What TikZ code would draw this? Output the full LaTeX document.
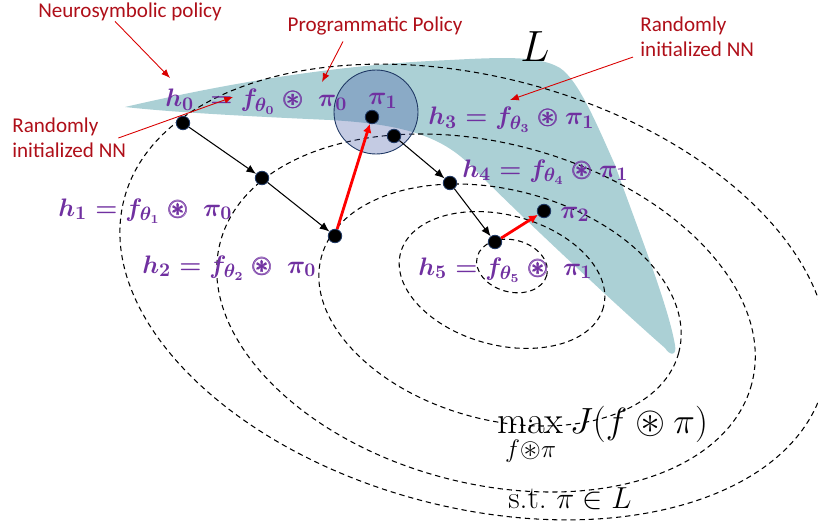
\documentclass[tikz,border=0pt]{standalone}
\usepackage{amsmath,amssymb,bm}
\usepackage{fontspec}
\setsansfont{Carlito}
\usetikzlibrary{arrows.meta}
\definecolor{lteal}{RGB}{171,208,213}
\definecolor{progblue}{RGB}{65,87,165}
\definecolor{dotrim}{RGB}{31,56,100}
\definecolor{notered}{RGB}{175,15,25}
\definecolor{hpurple}{RGB}{112,48,160}
\newcommand{\cast}{\mathbin{\bm{\circledast}}}
\begin{document}
\begin{tikzpicture}[
      x=0.02cm, y=-0.02cm,
      hdot/.style={circle,fill=black,draw=dotrim,line width=0.5pt,inner sep=0pt,minimum size=0.27cm},
      hlabel/.style={anchor=base west,inner sep=0pt,text=hpurple,font=\fontsize{15}{17}\selectfont\boldmath},
      note/.style={inner sep=0pt,text=notered,align=left,font=\sffamily\fontsize{12}{14}\selectfont},
      pointer/.style={draw=red!85!black,line width=0.5pt,-{Latex[length=5pt,width=4pt]}},
      descent/.style={line width=0.6pt,-{Latex[length=5.5pt,width=4.5pt]}},
      jump/.style={red,line width=1.6pt,-{Latex[length=5pt,width=5pt]}},
      contour/.style={line width=0.6pt,dash pattern=on 3pt off 2.2pt}
    ]
    \useasboundingbox (0,0) rectangle (818,527);
    \fill[lteal] (125,107) .. controls (220,85) and (330,65) .. (450,60)
      .. controls (505,57) and (540,56) .. (560,68)
      .. controls (578,80) and (595,120) .. (615,165)
      .. controls (640,235) and (668,305) .. (675,345)
      .. controls (677,356) and (670,356) .. (665,348)
      .. controls (635,322) and (540,235) .. (470,165)
      .. controls (440,135) and (400,124) .. (330,120)
      .. controls (240,116) and (170,112) .. (125,107) -- cycle;
    \foreach \rx/\ry/\cx/\cy in {36/26/512/266,105/65/502/280,185/115/500/305,275/170/486/313,362/215/474/292}
      \draw[contour,rotate around={-15:(\cx,\cy)}] (\cx,\cy) ellipse [x radius=\rx,y radius=\ry];
    \filldraw[fill=progblue,fill opacity=0.31,draw=dotrim,line width=0.5pt] (376,112) circle [radius=42];
    \node[inner sep=0pt,font=\fontsize{36}{38}\selectfont] (lang) at (535,47) {$L$};
    \node[hdot] (h0) at (183,123) {};
    \node[hdot] (h1) at (262,178) {};
    \node[hdot] (h2) at (335,236) {};
    \node[hdot] (pi1) at (372,117) {};
    \node[hdot] (h3) at (394,136) {};
    \node[hdot] (h4) at (450,183) {};
    \node[hdot] (h5) at (495,242) {};
    \node[hdot] (pi2) at (544,211) {};
    \draw[descent] (h0) -- (h1);
    \draw[descent] (h1) -- (h2);
    \draw[descent] (h3) -- (h4);
    \draw[descent] (h4) -- (h5);
    \draw[jump] (h2) -- (pi1);
    \draw[jump] (h5) -- (pi2);
    \node[hlabel] (h0 text) at (165,107) {$h_0\;= f_{\theta_0} \cast\ \pi_0$};
    \node[hlabel] (h1 text) at (58,216) {$h_1 = f_{\theta_1} \cast\; \pi_0$};
    \node[hlabel] (h2 text) at (142,273) {$h_2 = f_{\theta_2} \cast\; \pi_0$};
    \node[hlabel] (h3 text) at (428,125) {$h_3 = f_{\theta_3} \cast \pi_1$};
    \node[hlabel] (h4 text) at (462,177) {$h_4 = f_{\theta_4} \cast \pi_1$};
    \node[hlabel] (h5 text) at (418,275) {$h_5 = f_{\theta_5} \cast\; \pi_1$};
    \node[hlabel] (pi1 text) at (368,105) {$\pi_1$};
    \node[hlabel] (pi2 text) at (560,218) {$\pi_2$};
    \node[note] (nsp) at (130,12) {Neurosymbolic policy};
    \node[note] (pp) at (375,26) {Programmatic Policy};
    \node[note,anchor=west] (nn left) at (12,138) {Randomly\\initialized NN};
    \node[note,anchor=west] (nn right) at (640,37) {Randomly\\initialized NN};
    \coordinate (nsp tip) at (170,78);
    \coordinate (pp tip) at (322,82);
    \coordinate (nn left tip) at (233,97);
    \coordinate (nn right tip) at (510,100);
    \draw[pointer] ([xshift=-0.3cm]nsp.south) -- (nsp tip);
    \draw[pointer] ([xshift=-0.64cm,yshift=-0.12cm]pp.south) -- (pp tip);
    \draw[pointer] ([xshift=-0.16cm]nn left.east) -- (nn left tip);
    \draw[pointer] ([xshift=-0.14cm]nn right.south west) -- (nn right tip);
    \node[inner sep=0pt,anchor=base west,font=\fontsize{22}{24}\selectfont] (obj) at (497,433) {$\displaystyle\max_{f\circledast\pi} J(f \circledast \pi)$};
    \node[inner sep=0pt,anchor=base west,font=\fontsize{18}{20}\selectfont] (cons) at (508,508) {s.t.\ $\pi \in L$};
  \end{tikzpicture}
\end{document}
